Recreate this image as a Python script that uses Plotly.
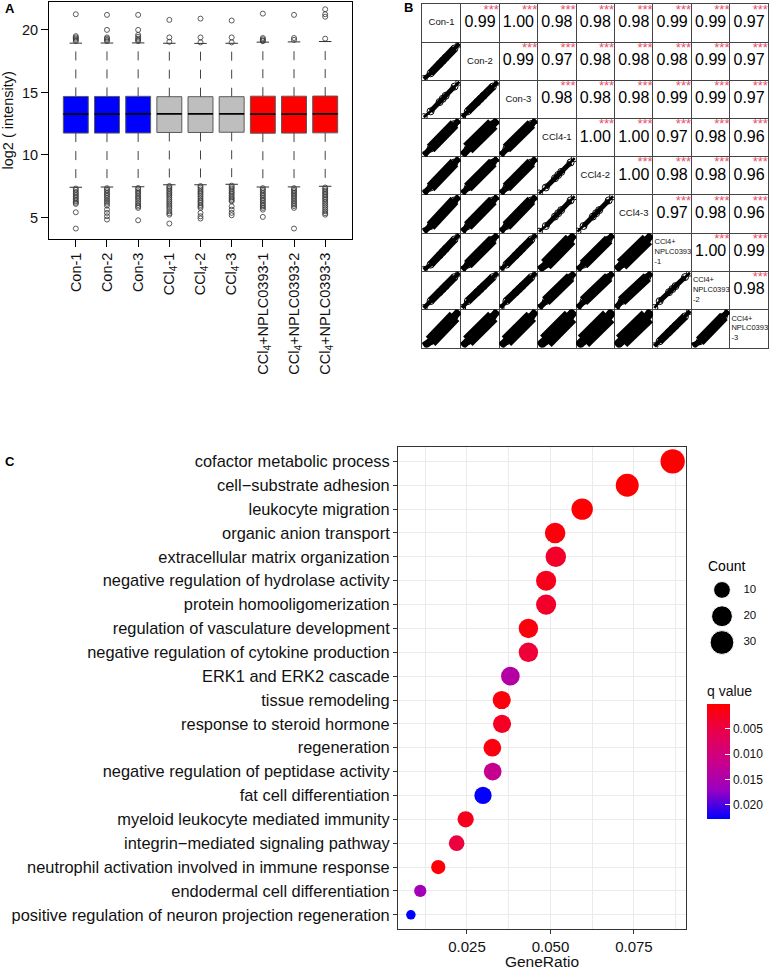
import plotly.graph_objects as go

FONT = "Liberation Sans, Arial, Helvetica, sans-serif"
W, H = 770, 970


def xdom(a, b):
    return [a / W, b / W]


def ydom(top, bottom):
    return [1 - bottom / H, 1 - top / H]


# ---------------- Panel A : boxplot data ----------------
sample_names = ["Con-1", "Con-2", "Con-3", "CCl4-1", "CCl4-2", "CCl4-3",
                "CCl4+NPLC0393-1", "CCl4+NPLC0393-2", "CCl4+NPLC0393-3"]
tick_labels_A = ["Con-1", "Con-2", "Con-3",
                 "CCl<sub>4</sub>-1", "CCl<sub>4</sub>-2", "CCl<sub>4</sub>-3",
                 "CCl<sub>4</sub>+NPLC0393-1", "CCl<sub>4</sub>+NPLC0393-2",
                 "CCl<sub>4</sub>+NPLC0393-3"]
box_fill = ["#0000FF"] * 3 + ["#BEBEBE"] * 3 + ["#FF0000"] * 3
box_q1 = [11.75, 11.75, 11.76, 11.80, 11.80, 11.82, 11.74, 11.75, 11.77]
box_median = [13.27, 13.27, 13.28, 13.28, 13.28, 13.29, 13.27, 13.27, 13.28]
box_q3 = [14.68, 14.68, 14.69, 14.66, 14.66, 14.66, 14.70, 14.70, 14.71]
whisker_low = [7.42, 7.44, 7.46, 7.62, 7.62, 7.66, 7.44, 7.45, 7.50]
whisker_high = [18.94, 18.95, 18.96, 18.93, 18.92, 18.93, 19.02, 19.04, 19.07]
outliers_high = [
    [21.25, 19.5, 19.4, 19.3, 19.2, 19.1],
    [21.2, 20.0, 19.4, 19.3, 19.2, 19.1],
    [21.2, 20.0, 19.6, 19.45, 19.3, 19.2, 19.1],
    [20.8, 19.4, 19.05],
    [20.9, 19.4, 19.0],
    [20.75, 19.4, 19.0],
    [21.3, 19.35, 19.25, 19.15, 19.1],
    [21.2, 19.35, 19.2],
    [21.65, 21.25, 21.05, 19.3],
]
outliers_low = [
    [7.32, 7.2, 7.05, 6.93, 6.8, 6.68, 6.55, 6.42, 6.3, 6.18, 6.09, 5.42, 4.12],
    [7.35, 7.22, 7.1, 6.95, 6.82, 6.7, 6.55, 6.4, 6.25, 6.1, 5.95, 5.63, 5.37, 5.1, 4.84],
    [7.36, 7.25, 7.1, 6.98, 6.85, 6.7, 6.58, 6.45, 6.3, 6.15, 6.0, 5.88, 5.77, 4.78],
    [7.52, 7.4, 7.28, 7.15, 7.0, 6.88, 6.75, 6.6, 6.45, 6.3, 6.15, 6.0, 5.85, 5.7, 5.5, 5.35, 5.23, 4.52],
    [7.52, 7.4, 7.25, 7.1, 6.98, 6.85, 6.7, 6.55, 6.4, 6.28, 6.15, 6.0, 5.88, 5.77, 5.37, 5.1, 4.92],
    [7.55, 7.42, 7.3, 7.15, 7.02, 6.9, 6.75, 6.62, 6.5, 6.38, 6.3, 5.9, 5.63, 5.37, 5.18],
    [7.35, 7.22, 7.1, 6.95, 6.82, 6.7, 6.55, 6.42, 6.3, 6.15, 6.02, 5.9, 5.77, 5.63, 5.05],
    [7.35, 7.22, 7.1, 6.98, 6.85, 6.72, 6.6, 6.45, 6.32, 6.18, 6.05, 5.92, 5.77, 4.12],
    [7.4, 7.28, 7.15, 7.02, 6.9, 6.78, 6.65, 6.52, 6.4, 6.25, 6.1, 5.95, 5.8, 5.65, 5.5, 5.35, 5.23],
]

# ---------------- Panel B : correlation matrix ----------------
diag_labels = ["Con-1", "Con-2", "Con-3", "CCl4-1", "CCl4-2", "CCl4-3",
               "CCl4+<br>NPLC0393<br>-1", "CCl4+<br>NPLC0393<br>-2", "CCl4+<br>NPLC0393<br>-3"]
corr_upper = [
    [0.99, 1.00, 0.98, 0.98, 0.98, 0.99, 0.99, 0.97],
    [0.99, 0.97, 0.98, 0.98, 0.98, 0.99, 0.97],
    [0.98, 0.98, 0.98, 0.99, 0.99, 0.97],
    [1.00, 1.00, 0.97, 0.98, 0.96],
    [1.00, 0.98, 0.98, 0.96],
    [0.97, 0.98, 0.96],
    [1.00, 0.99],
    [0.98],
]
significance = "***"

# ---------------- Panel C : GO enrichment ----------------
go_terms = [
    "cofactor metabolic process",
    "cell\u2212substrate adhesion",
    "leukocyte migration",
    "organic anion transport",
    "extracellular matrix organization",
    "negative regulation of hydrolase activity",
    "protein homooligomerization",
    "regulation of vasculature development",
    "negative regulation of cytokine production",
    "ERK1 and ERK2 cascade",
    "tissue remodeling",
    "response to steroid hormone",
    "regeneration",
    "negative regulation of peptidase activity",
    "fat cell differentiation",
    "myeloid leukocyte mediated immunity",
    "integrin\u2212mediated signaling pathway",
    "neutrophil activation involved in immune response",
    "endodermal cell differentiation",
    "positive regulation of neuron projection regeneration",
]
gene_ratio = [0.0866, 0.0730, 0.0595, 0.0514, 0.0516, 0.0487, 0.0487, 0.0434, 0.0434, 0.0380,
              0.0354, 0.0355, 0.0326, 0.0327, 0.0298, 0.0246, 0.0219, 0.0164, 0.0110, 0.0082]
gene_count = [32, 27, 22, 19, 19, 18, 18, 16, 16, 14, 13, 13, 12, 12, 11, 9, 8, 6, 4, 3]
q_value = [0.00005, 0.0002, 0.0003, 0.0008, 0.0030, 0.0020, 0.0030, 0.0010, 0.0040, 0.0140,
           0.0008, 0.0025, 0.0012, 0.0120, 0.0226, 0.0020, 0.0045, 0.0006, 0.0160, 0.0227]
count_legend = [10, 20, 30]
q_ticks = [0.005, 0.010, 0.015, 0.020]

# ======================================================================
fig = go.Figure()
TXT = "#111111"

# ---- Panel A traces ----
pos = list(range(1, len(sample_names) + 1))
wx, wy, sx, sy, mx, my, ox, oy = [], [], [], [], [], [], [], []
for p, lo, a, m, b, hi, oh, ol in zip(pos, whisker_low, box_q1, box_median, box_q3,
                                       whisker_high, outliers_high, outliers_low):
    wx += [p, p, None, p, p, None]
    wy += [b, hi, None, a, lo, None]
    sx += [p - 0.2, p + 0.2, None, p - 0.2, p + 0.2, None]
    sy += [hi, hi, None, lo, lo, None]
    mx += [p - 0.4, p + 0.4, None]
    my += [m, m, None]
    ox += [p] * (len(oh) + len(ol))
    oy += oh + ol

fig.add_trace(go.Scatter(x=wx, y=wy, mode="lines", line=dict(color="#444444", width=1, dash="dash"),
                         xaxis="x", yaxis="y", hoverinfo="skip"))
fig.add_trace(go.Bar(x=pos, y=[b - a for a, b in zip(box_q1, box_q3)], base=box_q1, width=0.8,
                     marker=dict(color=box_fill, line=dict(color="#5a5a5a", width=1)),
                     xaxis="x", yaxis="y"))
fig.add_trace(go.Scatter(x=sx, y=sy, mode="lines", line=dict(color="#333333", width=1),
                         xaxis="x", yaxis="y", hoverinfo="skip"))
fig.add_trace(go.Scatter(x=mx, y=my, mode="lines", line=dict(color="black", width=1.8),
                         xaxis="x", yaxis="y", hoverinfo="skip"))
fig.add_trace(go.Scatter(x=ox, y=oy, mode="markers",
                         marker=dict(symbol="circle-open", size=5, color="#333333", line=dict(width=0.8)),
                         xaxis="x", yaxis="y"))

# ---- Panel B traces ----
n = len(sample_names)
cx, cy, ct, stx, sty = [], [], [], [], []
for i in range(n - 1):
    for k, r in enumerate(corr_upper[i]):
        j = i + 1 + k
        cx.append(j + 0.5)
        cy.append(i + 0.5)
        ct.append(f"{r:.2f}")
        stx.append(j + 0.99)
        sty.append(i + 0.0)
fig.add_trace(go.Scatter(x=cx, y=cy, text=ct, mode="text", textposition="middle center",
                         textfont=dict(size=16, color="black", family=FONT), xaxis="x2", yaxis="y2"))
fig.add_trace(go.Scatter(x=stx, y=sty, text=[significance] * len(stx), mode="text",
                         textposition="bottom left",
                         textfont=dict(size=13, color="#E8506A", family=FONT), xaxis="x2", yaxis="y2"))
short = [s for s in diag_labels if "<br>" not in s]
long_ = [s for s in diag_labels if "<br>" in s]
fig.add_trace(go.Scatter(x=[i + 0.5 for i in range(len(short))], y=[i + 0.5 for i in range(len(short))],
                         text=short, mode="text", textposition="middle center",
                         textfont=dict(size=9.5, color=TXT, family=FONT), xaxis="x2", yaxis="y2"))
fig.add_trace(go.Scatter(x=[len(short) + i + 0.04 for i in range(len(long_))],
                         y=[len(short) + i + 0.5 for i in range(len(long_))],
                         text=long_, mode="text", textposition="middle right",
                         textfont=dict(size=7.5, color=TXT, family=FONT), xaxis="x2", yaxis="y2"))

# lower-triangle scatter cells (summarised intensity profile of each sample)
profiles = []
for s in range(n):
    profiles.append([min(outliers_low[s]), whisker_low[s], box_q1[s], box_median[s],
                     box_q3[s], whisker_high[s], max(outliers_high[s])])


def corr(i, j):
    a, b = min(i, j), max(i, j)
    return corr_upper[a][b - a - 1]


GX0, GX1, GY0, GY1 = 422.3, 768.3, 4.0, 348.3
cw = (GX1 - GX0) / n
ch = (GY1 - GY0) / n
layout_axes = {}
ax_id = 5
for i in range(n):
    for j in range(i):
        r = corr(i, j)
        wbl = 5 + (1 - r) * 280
        px, py = profiles[j], profiles[i]
        fig.add_trace(go.Scatter(x=px, y=py, mode="lines+markers",
                                 line=dict(color="black", width=wbl * 0.55),
                                 marker=dict(symbol="circle-open", size=7, color="black",
                                             line=dict(width=1)),
                                 xaxis=f"x{ax_id}", yaxis=f"y{ax_id}", hoverinfo="skip"))
        fig.add_trace(go.Scatter(x=px[1:6], y=py[1:6], mode="lines",
                                 line=dict(color="black", width=wbl),
                                 xaxis=f"x{ax_id}", yaxis=f"y{ax_id}", hoverinfo="skip"))
        sxr = [px[0] - 0.04 * (px[-1] - px[0]), px[-1] + 0.04 * (px[-1] - px[0])]
        syr = [py[0] - 0.04 * (py[-1] - py[0]), py[-1] + 0.04 * (py[-1] - py[0])]
        layout_axes[f"xaxis{ax_id}"] = dict(domain=xdom(GX0 + cw * j, GX0 + cw * (j + 1)), range=sxr,
                                            visible=False, anchor=f"y{ax_id}")
        layout_axes[f"yaxis{ax_id}"] = dict(domain=ydom(GY0 + ch * i, GY0 + ch * (i + 1)), range=syr,
                                            visible=False, anchor=f"x{ax_id}")
        ax_id += 1

# ---- Panel C traces ----
cmin_c, cmax_c = min(gene_count), max(gene_count)
DMIN, DMAX = 9.5, 24.3


def dot_size(c):
    return DMIN + (DMAX - DMIN) * ((c - cmin_c) / (cmax_c - cmin_c)) ** 0.5


qmax, qmin = max(q_value), min(q_value)
cscale = [[0, "#0000FF"], [0.25, "#9A00C2"], [0.5, "#CA0089"], [0.75, "#E80050"], [1, "#FF0000"]]
fig.add_trace(go.Scatter(
    x=gene_ratio, y=go_terms, mode="markers",
    marker=dict(size=[dot_size(c) for c in gene_count], color=[-q for q in q_value],
                colorscale=cscale, cmin=-qmax, cmax=-qmin, line=dict(width=0), opacity=1,
                colorbar=dict(x=707 / W, xanchor="left", xpad=0, ypad=0,
                              y=1 - 684 / H, yanchor="top", len=(820 - 684) / H, lenmode="fraction",
                              thickness=23, outlinewidth=0,
                              tickvals=[-t for t in q_ticks], ticktext=[f"{t:.3f}" for t in q_ticks],
                              ticks="inside", ticklen=5, tickcolor="white", tickwidth=1,
                              tickfont=dict(size=12, color=TXT, family=FONT),
                              title=dict(text="q value", side="top",
                                         font=dict(size=14, color=TXT, family=FONT)))),
    xaxis="x3", yaxis="y3"))

# Count legend
fig.add_trace(go.Scatter(x=[0.314] * 3, y=list(range(3)), mode="markers",
                         marker=dict(size=[dot_size(c) for c in count_legend], color="black", opacity=1),
                         xaxis="x4", yaxis="y4", hoverinfo="skip"))
fig.add_trace(go.Scatter(x=[0.62] * 3, y=list(range(3)), mode="text", text=[str(c) for c in count_legend],
                         textposition="middle right", textfont=dict(size=11.5, color=TXT, family=FONT),
                         xaxis="x4", yaxis="y4", hoverinfo="skip"))

# ======================================================================
axis_font = dict(family=FONT, color=TXT)
fig.update_layout(
    width=W, height=H, autosize=False, showlegend=False,
    margin=dict(l=0, r=0, t=0, b=0),
    paper_bgcolor="white", plot_bgcolor="rgba(0,0,0,0)",
    font=dict(family=FONT, color=TXT),
    xaxis=dict(domain=xdom(49, 352), range=[0.14, 9.86], tickvals=pos, ticktext=tick_labels_A,
               tickangle=-90, ticks="outside", ticklen=7, tickcolor="black",
               showline=True, mirror=True, linecolor="black", linewidth=1,
               showgrid=False, zeroline=False, tickfont=dict(size=14.5, **axis_font), anchor="y"),
    yaxis=dict(domain=ydom(2, 239.3), range=[3.30, 22.23], tickvals=[5, 10, 15, 20],
               ticks="outside", ticklen=7, tickcolor="black",
               showline=True, mirror=True, linecolor="black", linewidth=1,
               showgrid=False, zeroline=False, tickfont=dict(size=14.5, **axis_font),
               title=dict(text="log2 ( intensity)", font=dict(size=14.5, **axis_font), standoff=8),
               anchor="x"),
    xaxis2=dict(domain=xdom(GX0, GX1), range=[0, n], tickvals=list(range(n + 1)),
                showgrid=True, gridcolor="#444444", gridwidth=1, showticklabels=False, ticks="",
                showline=True, mirror=True, linecolor="#444444", linewidth=1, zeroline=False,
                anchor="y2"),
    yaxis2=dict(domain=ydom(GY0, GY1), range=[n, 0], tickvals=list(range(n + 1)),
                showgrid=True, gridcolor="#444444", gridwidth=1, showticklabels=False, ticks="",
                showline=True, mirror=True, linecolor="#444444", linewidth=1, zeroline=False,
                anchor="x2"),
    xaxis3=dict(domain=xdom(398, 686), range=[0.00434, 0.0906], tickvals=[0.025, 0.050, 0.075],
                ticktext=["0.025", "0.050", "0.075"], ticks="outside", ticklen=4, tickcolor="#333333",
                showgrid=True, gridcolor="#EBEBEB", gridwidth=1.1,
                minor=dict(tickvals=[0.0125, 0.0375, 0.0625, 0.0875], showgrid=True,
                           gridcolor="#EBEBEB", gridwidth=0.6, ticks=""),
                showline=True, mirror=True, linecolor="#333333", linewidth=1, zeroline=False,
                tickfont=dict(size=15, **axis_font),
                title=dict(text="GeneRatio", font=dict(size=15.5, **axis_font), standoff=4),
                anchor="y3"),
    yaxis3=dict(domain=ydom(448, 931), type="category", categoryorder="array", categoryarray=go_terms,
                range=[len(go_terms) - 0.4, -0.6], ticks="outside", ticklen=4, tickcolor="#333333",
                showgrid=True, gridcolor="#EBEBEB", gridwidth=1.1,
                showline=True, mirror=True, linecolor="#333333", linewidth=1, zeroline=False,
                tickfont=dict(size=16.4, **axis_font), anchor="x3"),
    xaxis4=dict(domain=xdom(700, 770), range=[0, 1], visible=False, anchor="y4"),
    yaxis4=dict(domain=ydom(578, 657), range=[2.5, -0.5], visible=False, anchor="x4"),
    **layout_axes,
)

ann = [
    dict(text="<b>A</b>", x=3 / W, y=1 - 9 / H, xanchor="left", yanchor="middle", font=dict(size=13)),
    dict(text="<b>B</b>", x=402 / W, y=1 - 8 / H, xanchor="left", yanchor="middle", font=dict(size=13)),
    dict(text="<b>C</b>", x=3 / W, y=1 - 462 / H, xanchor="left", yanchor="middle", font=dict(size=13)),
    dict(text="Count", x=706 / W, y=1 - 567 / H, xanchor="left", yanchor="middle", font=dict(size=14)),
]
for a in ann:
    a.update(xref="paper", yref="paper", showarrow=False)
    a["font"].update(family=FONT, color="black")
fig.update_layout(annotations=ann)

fig.write_html("out.html", config={"displayModeBar": False},
               post_script="document.body.style.margin='0';document.body.style.overflow='hidden';")
